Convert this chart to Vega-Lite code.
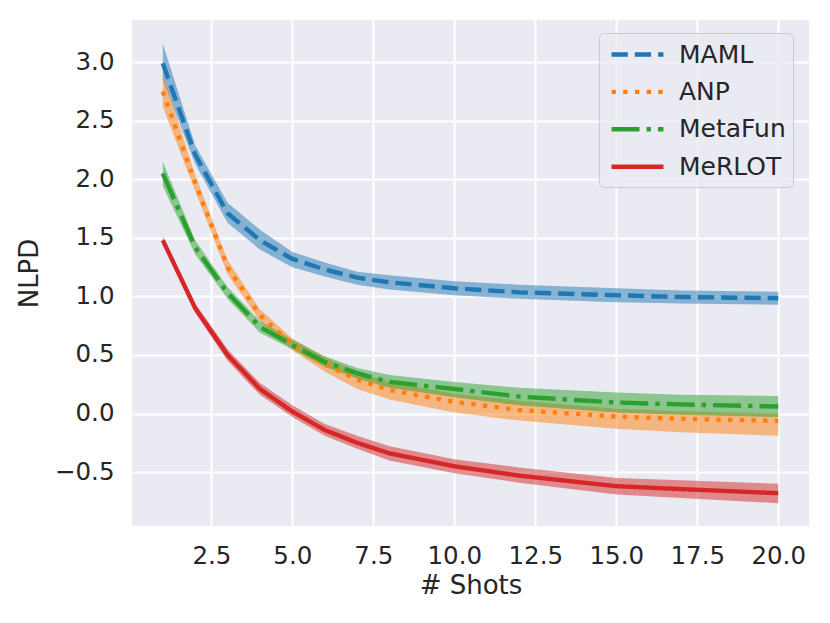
{
  "$schema": "https://vega.github.io/schema/vega-lite/v6.json",
  "width": 677,
  "height": 506,
  "autosize": {"type": "none"},
  "padding": {"left": 132, "top": 20, "right": 21, "bottom": 97},
  "background": "white",
  "config": {
    "font": "DejaVu Sans",
    "view": {"fill": "#EAEAF2", "stroke": null},
    "axis": {
      "domain": false,
      "ticks": false,
      "grid": true,
      "gridColor": "white",
      "gridWidth": 2.2,
      "labelFont": "DejaVu Sans",
      "labelFontSize": 24.5,
      "labelColor": "#262626",
      "titleFont": "DejaVu Sans",
      "titleFontSize": 26,
      "titleFontWeight": "normal",
      "titleColor": "#262626"
    },
    "legend": {
      "orient": "none",
      "legendX": 467,
      "legendY": 13,
      "symbolType": "M-0.75,0L3.58,0",
      "symbolSize": 576,
      "symbolStrokeWidth": 4.4,
      "symbolOpacity": 1,
      "labelFontSize": 25,
      "labelFont": "DejaVu Sans",
      "labelColor": "#262626",
      "labelOffset": 44,
      "rowPadding": 9.4,
      "padding": 7,
      "fillColor": "rgba(234,234,242,0.8)",
      "strokeColor": "#cccccc",
      "cornerRadius": 5
    }
  },
  "data": {
    "values": [
      {"method": "MAML", "shots": 1, "nlpd": 2.99, "lo": 2.85, "hi": 3.16},
      {"method": "MAML", "shots": 2, "nlpd": 2.21, "lo": 2.13, "hi": 2.29},
      {"method": "MAML", "shots": 3, "nlpd": 1.71, "lo": 1.63, "hi": 1.80},
      {"method": "MAML", "shots": 4, "nlpd": 1.48, "lo": 1.40, "hi": 1.57},
      {"method": "MAML", "shots": 5, "nlpd": 1.32, "lo": 1.25, "hi": 1.38},
      {"method": "MAML", "shots": 6, "nlpd": 1.23, "lo": 1.17, "hi": 1.29},
      {"method": "MAML", "shots": 7, "nlpd": 1.16, "lo": 1.10, "hi": 1.21},
      {"method": "MAML", "shots": 8, "nlpd": 1.12, "lo": 1.06, "hi": 1.18},
      {"method": "MAML", "shots": 10, "nlpd": 1.07, "lo": 1.01, "hi": 1.13},
      {"method": "MAML", "shots": 12, "nlpd": 1.035, "lo": 0.98, "hi": 1.10},
      {"method": "MAML", "shots": 15, "nlpd": 1.01, "lo": 0.95, "hi": 1.07},
      {"method": "MAML", "shots": 17, "nlpd": 0.995, "lo": 0.94, "hi": 1.05},
      {"method": "MAML", "shots": 20, "nlpd": 0.985, "lo": 0.93, "hi": 1.04},
      {"method": "ANP", "shots": 1, "nlpd": 2.75, "lo": 2.62, "hi": 2.90},
      {"method": "ANP", "shots": 2, "nlpd": 1.97, "lo": 1.90, "hi": 2.04},
      {"method": "ANP", "shots": 3, "nlpd": 1.25, "lo": 1.19, "hi": 1.31},
      {"method": "ANP", "shots": 4, "nlpd": 0.84, "lo": 0.79, "hi": 0.89},
      {"method": "ANP", "shots": 5, "nlpd": 0.59, "lo": 0.54, "hi": 0.64},
      {"method": "ANP", "shots": 6, "nlpd": 0.42, "lo": 0.36, "hi": 0.48},
      {"method": "ANP", "shots": 7, "nlpd": 0.29, "lo": 0.21, "hi": 0.35},
      {"method": "ANP", "shots": 8, "nlpd": 0.20, "lo": 0.12, "hi": 0.27},
      {"method": "ANP", "shots": 10, "nlpd": 0.10, "lo": 0.01, "hi": 0.17},
      {"method": "ANP", "shots": 12, "nlpd": 0.03, "lo": -0.06, "hi": 0.11},
      {"method": "ANP", "shots": 15, "nlpd": -0.026, "lo": -0.13, "hi": 0.04},
      {"method": "ANP", "shots": 17, "nlpd": -0.045, "lo": -0.16, "hi": 0.02},
      {"method": "ANP", "shots": 20, "nlpd": -0.062, "lo": -0.19, "hi": 0.0},
      {"method": "MetaFun", "shots": 1, "nlpd": 2.05, "lo": 1.94, "hi": 2.15},
      {"method": "MetaFun", "shots": 2, "nlpd": 1.42, "lo": 1.36, "hi": 1.48},
      {"method": "MetaFun", "shots": 3, "nlpd": 1.03, "lo": 0.98, "hi": 1.08},
      {"method": "MetaFun", "shots": 4, "nlpd": 0.74, "lo": 0.69, "hi": 0.79},
      {"method": "MetaFun", "shots": 5, "nlpd": 0.586, "lo": 0.55, "hi": 0.63},
      {"method": "MetaFun", "shots": 6, "nlpd": 0.44, "lo": 0.40, "hi": 0.49},
      {"method": "MetaFun", "shots": 7, "nlpd": 0.345, "lo": 0.30, "hi": 0.39},
      {"method": "MetaFun", "shots": 8, "nlpd": 0.27, "lo": 0.22, "hi": 0.33},
      {"method": "MetaFun", "shots": 10, "nlpd": 0.21, "lo": 0.14, "hi": 0.27},
      {"method": "MetaFun", "shots": 12, "nlpd": 0.145, "lo": 0.07, "hi": 0.22},
      {"method": "MetaFun", "shots": 15, "nlpd": 0.094, "lo": 0.01, "hi": 0.18},
      {"method": "MetaFun", "shots": 17, "nlpd": 0.078, "lo": -0.01, "hi": 0.16},
      {"method": "MetaFun", "shots": 20, "nlpd": 0.06, "lo": -0.03, "hi": 0.15},
      {"method": "MeRLOT", "shots": 1, "nlpd": 1.48, "lo": 1.45, "hi": 1.51},
      {"method": "MeRLOT", "shots": 2, "nlpd": 0.90, "lo": 0.86, "hi": 0.94},
      {"method": "MeRLOT", "shots": 3, "nlpd": 0.50, "lo": 0.45, "hi": 0.55},
      {"method": "MeRLOT", "shots": 4, "nlpd": 0.21, "lo": 0.16, "hi": 0.26},
      {"method": "MeRLOT", "shots": 5, "nlpd": 0.017, "lo": -0.03, "hi": 0.07},
      {"method": "MeRLOT", "shots": 6, "nlpd": -0.14, "lo": -0.19, "hi": -0.09},
      {"method": "MeRLOT", "shots": 7, "nlpd": -0.25, "lo": -0.30, "hi": -0.19},
      {"method": "MeRLOT", "shots": 8, "nlpd": -0.34, "lo": -0.40, "hi": -0.28},
      {"method": "MeRLOT", "shots": 10, "nlpd": -0.45, "lo": -0.51, "hi": -0.39},
      {"method": "MeRLOT", "shots": 12, "nlpd": -0.53, "lo": -0.59, "hi": -0.46},
      {"method": "MeRLOT", "shots": 15, "nlpd": -0.62, "lo": -0.69, "hi": -0.55},
      {"method": "MeRLOT", "shots": 17, "nlpd": -0.645, "lo": -0.72, "hi": -0.57},
      {"method": "MeRLOT", "shots": 20, "nlpd": -0.68, "lo": -0.765, "hi": -0.60}
    ]
  },
  "encoding": {
    "x": {
      "field": "shots",
      "type": "quantitative",
      "title": "# Shots",
      "scale": {"domain": [0.05, 20.95], "nice": false, "zero": false},
      "axis": {
        "values": [2.5, 5, 7.5, 10, 12.5, 15, 17.5, 20],
        "format": ".1f",
        "labelPadding": 18,
        "titlePadding": 5
      }
    },
    "color": {
      "field": "method",
      "type": "nominal",
      "title": null,
      "scale": {
        "domain": ["MAML", "ANP", "MetaFun", "MeRLOT"],
        "range": ["#1f77b4", "#ff7f0e", "#2ca02c", "#d62728"]
      }
    }
  },
  "layer": [
    {
      "mark": {"type": "area", "opacity": 0.5},
      "encoding": {
        "y": {
          "field": "lo",
          "type": "quantitative",
          "title": "NLPD",
          "scale": {"domain": [-0.96, 3.36], "nice": false, "zero": false},
          "axis": {
            "values": [-0.5, 0, 0.5, 1, 1.5, 2, 2.5, 3],
            "format": ".1f",
            "labelPadding": 18,
            "titlePadding": 12
          }
        },
        "y2": {"field": "hi"}
      }
    },
    {
      "mark": {"type": "line", "strokeWidth": 4.4, "strokeCap": "butt"},
      "encoding": {
        "y": {"field": "nlpd", "type": "quantitative"},
        "strokeDash": {
          "field": "method",
          "type": "nominal",
          "title": null,
          "scale": {
            "domain": ["MAML", "ANP", "MetaFun", "MeRLOT"],
            "range": [[16.3, 7], [4.4, 7.3], [28, 7, 4.4, 7], [1, 0]]
          }
        }
      }
    }
  ]
}
